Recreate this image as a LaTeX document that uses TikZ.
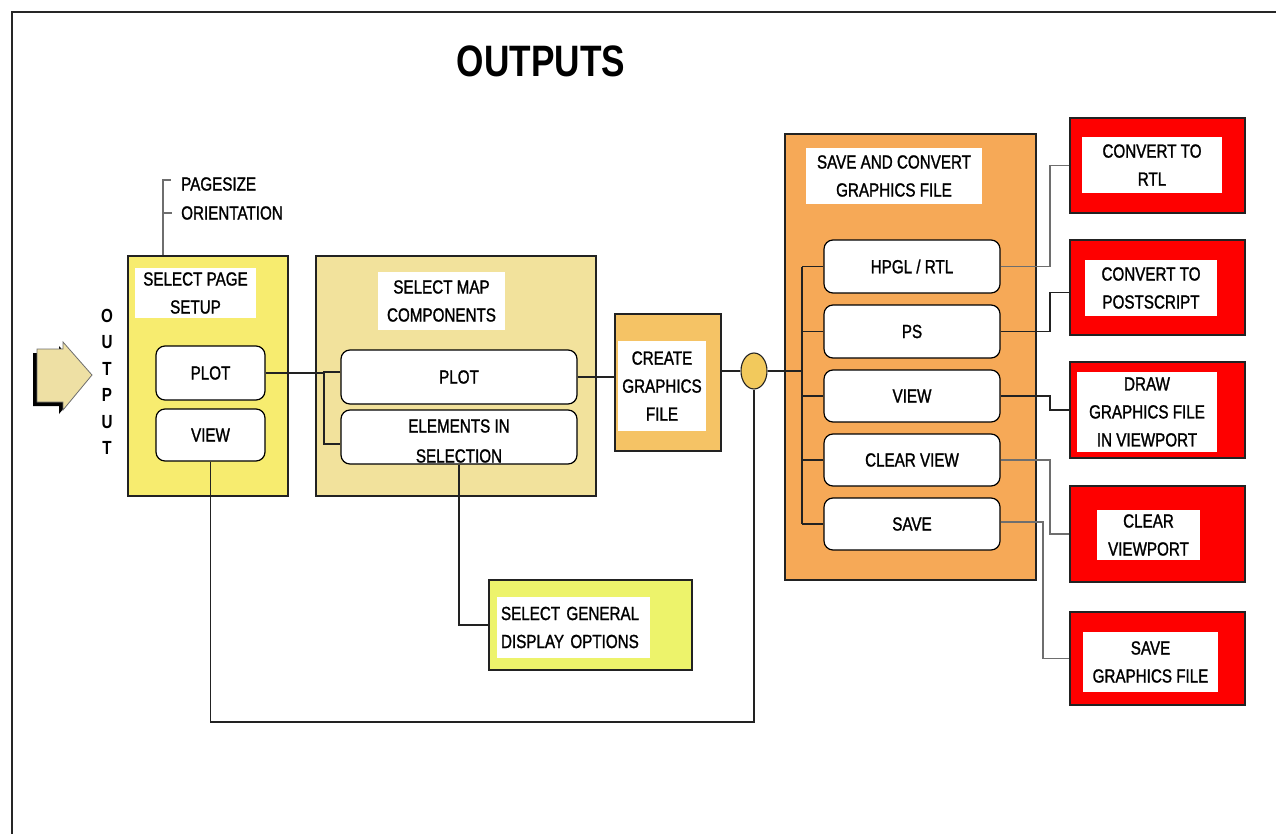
\documentclass[tikz,border=0pt]{standalone}
\usepackage{fontspec}
\setmainfont{Liberation Sans}[FakeStretch=0.80]
\newfontfamily\heavyfont{Liberation Sans}[FakeStretch=0.80, FakeBold=1.3]
\usetikzlibrary{calc,shapes.geometric}

\definecolor{pageyellow}{HTML}{F7EC6F}
\definecolor{maptan}{HTML}{F2E29C}
\definecolor{creategold}{HTML}{F5C365}
\definecolor{saveorange}{HTML}{F6A957}
\definecolor{dotgold}{HTML}{F2C95C}
\definecolor{optyellow}{HTML}{EDF36B}
\definecolor{arrowtan}{HTML}{EEE0A4}
\definecolor{boxred}{HTML}{FE0000}
\definecolor{wire}{HTML}{222222}
\definecolor{greywire}{HTML}{6E6E6E}

\tikzset{
  txt/.style={font=\heavyfont\fontsize{19}{28}\selectfont, align=center, inner sep=0pt},
  panel/.style={draw=wire, line width=1.1pt, inner sep=0pt},
  label/.style={txt, fill=white},
  pill/.style={txt, draw=black, fill=white, line width=1.2pt, rounded corners=9pt},
  redbox/.style={panel, fill=boxred},
  conn/.style={draw=wire, line width=1.2pt},
  softconn/.style={draw=greywire, line width=1.2pt},
}

\begin{document}
\begin{tikzpicture}[x=1pt, y=-1pt]
\useasboundingbox (0,0) rectangle (1276,834);

% frame
\draw[line width=1.3pt, black!85] (12,834) -- (12,12) -- (1276,12);

% heading
\node[font=\fontsize{44}{50}\selectfont\bfseries, inner sep=0pt] (title) at (541,61) {OUTPUTS};

% entry arrow with its shadow
\fill[black] (33,353) -- (59,353) -- (59,346) -- (88,379) -- (59,414) -- (59,406) -- (33,406) -- cycle;
\draw[fill=arrowtan, draw=greywire, line width=0.8pt]
  (37,349) -- (63,349) -- (63,342) -- (92,375) -- (63,410) -- (63,402) -- (37,402) -- cycle;
\node[font=\fontsize{19}{26.5}\selectfont\bfseries, align=center, inner sep=0pt] (outword) at (107,382) {O\\U\\T\\P\\U\\T};

% page setup
\node[panel, fill=pageyellow, minimum width=160pt, minimum height=240pt] (page) at (208,376) {};
\node[label, minimum width=121pt, minimum height=50pt] (pagetitle) at (195.5,293) {SELECT PAGE\\SETUP};
\node[pill, minimum width=109pt, minimum height=54pt] (pplot) at (210.5,373) {PLOT};
\node[pill, minimum width=109pt, minimum height=52pt] (pview) at (210.5,435) {VIEW};

% page size options
\node[txt, anchor=west] (pagesize) at (181,184) {PAGESIZE};
\node[txt, anchor=west] (orient) at (181,213) {ORIENTATION};
\coordinate (pst) at (163,180);
\draw[softconn] (page.north -| pst) -- (pst) -- ++(8,0);
\draw[softconn] (pst |- orient.west) -- ++(9,0);

% map components
\node[panel, fill=maptan, minimum width=280pt, minimum height=240pt] (map) at (456,376) {};
\node[label, minimum width=127pt, minimum height=58pt] (maptitle) at (441.5,301) {SELECT MAP\\COMPONENTS};
\node[pill, minimum width=236pt, minimum height=54pt] (mplot) at (459,377) {PLOT};
\node[pill, minimum width=236pt, minimum height=54pt] (elem) at (459,437) {};
\node[txt, font=\heavyfont\fontsize{19}{30}\selectfont] (elemtext) at (459,441) {ELEMENTS IN\\SELECTION};

% create graphics file
\node[panel, fill=creategold, minimum width=106pt, minimum height=137pt] (create) at (668,382.5) {};
\node[label, minimum width=88pt, minimum height=90pt] (createtext) at (662,386) {CREATE\\GRAPHICS\\FILE};

% junction
\node[ellipse, draw=wire, fill=dotgold, line width=1.1pt, minimum width=26pt, minimum height=36pt, inner sep=0pt] (dot) at (754,371) {};

% save and convert
\node[panel, fill=saveorange, minimum width=251pt, minimum height=446pt] (save) at (910.5,357) {};
\node[label, minimum width=176pt, minimum height=56pt] (savetitle) at (894,176) {SAVE AND CONVERT\\GRAPHICS FILE};
\node[pill, minimum width=176pt, minimum height=53pt] (hpgl) at (912,266.5) {HPGL / RTL};
\node[pill, minimum width=176pt, minimum height=53pt] (ps) at (912,331.5) {PS};
\node[pill, minimum width=176pt, minimum height=52pt] (sview) at (912,396) {VIEW};
\node[pill, minimum width=176pt, minimum height=52pt] (sclear) at (912,460) {CLEAR VIEW};
\node[pill, minimum width=176pt, minimum height=52pt] (ssave) at (912,524) {SAVE};

% result boxes
\node[redbox, minimum width=175pt, minimum height=95pt] (r1) at (1157.5,165.5) {};
\node[label, minimum width=140pt, minimum height=56pt] (r1t) at (1152,165) {CONVERT TO\\RTL};
\node[redbox, minimum width=175pt, minimum height=95pt] (r2) at (1157.5,287.5) {};
\node[label, minimum width=132pt, minimum height=56pt] (r2t) at (1151,288) {CONVERT TO\\POSTSCRIPT};
\node[redbox, minimum width=175pt, minimum height=96pt] (r3) at (1157.5,410) {};
\node[label, minimum width=140pt, minimum height=80pt] (r3t) at (1147,412) {DRAW\\GRAPHICS FILE\\IN VIEWPORT};
\node[redbox, minimum width=175pt, minimum height=96pt] (r4) at (1157.5,534) {};
\node[label, minimum width=103pt, minimum height=50pt] (r4t) at (1148.5,535) {CLEAR\\VIEWPORT};
\node[redbox, minimum width=175pt, minimum height=93pt] (r5) at (1157.5,658.5) {};
\node[label, minimum width=135pt, minimum height=60pt] (r5t) at (1150.5,662) {SAVE\\GRAPHICS FILE};

% display options
\node[panel, fill=optyellow, minimum width=203pt, minimum height=90pt] (general) at (590.5,625) {};
\node[label, align=left, minimum width=153pt, minimum height=61pt, text width=145pt] (generaltext) at (573.5,627.5) {SELECT GENERAL\\DISPLAY OPTIONS};

% connectors: page setup to map components
\coordinate (mb) at (324,373);
\draw[conn] (pplot.east) -- (mb);
\draw[conn] ([yshift=5pt]mplot.west) -- ([yshift=5pt]mplot.west -| mb) -- ([yshift=-7pt]elem.west -| mb) -- ([yshift=-7pt]elem.west);

% map components to create graphics file
\draw[conn] (mplot.east) -- (mplot.east -| create.west);

% create graphics file to junction and on to the save panel
\coordinate (sb) at (802,371);
\draw[conn] (dot.west -| create.east) -- (dot.west);
\draw[conn] (dot.east) -- (sb);
\draw[conn] (hpgl.west -| sb) -- (ssave.west -| sb);
\foreach \n in {hpgl,ps,sview,sclear,ssave}
  \draw[conn] (\n.west -| sb) -- (\n.west);

% elements to display options
\draw[conn] (elem.south) -- (elem.south |- general.west) -- (general.west);

% view feedback loop
\coordinate (loopy) at (0,722);
\draw[conn] (pview.south) -- (pview.south |- loopy) -| (dot.south);

% save panel to result boxes
\coordinate (ja) at (1050,0);
\coordinate (jb) at (1043,0);
\draw[softconn] (hpgl.east) -- (hpgl.east -| ja) |- (r1.west);
\draw[conn] (ps.east) -- (ps.east -| ja) |- ([yshift=-5pt]r2.west);
\draw[conn] (sview.east) -- (sview.east -| ja) |- (r3.west);
\draw[softconn] (sclear.east) -- (sclear.east -| ja) |- (r4.west);
\draw[softconn] ([yshift=2pt]ssave.east) -- ([yshift=2pt]ssave.east -| jb) |- (r5.west);
\end{tikzpicture}
\end{document}
